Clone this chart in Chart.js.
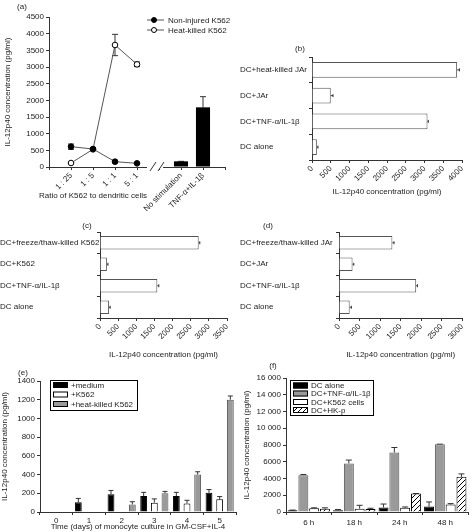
<!DOCTYPE html>
<html>
<head>
<meta charset="utf-8">
<script src="https://cdn.jsdelivr.net/npm/chart.js@4/dist/chart.umd.min.js"></script>
<style>
body { margin: 0; background: #fff; }
#fig { position: relative; width: 470px; height: 532px; font-family: 'Liberation Sans', Arial, sans-serif; font-size: 8px; color: #222; }
canvas { position: absolute; }
.lbl { position: absolute; white-space: nowrap; transform: translate(-50%, -50%); }
</style>
</head>
<body>
<div id="fig">
  <canvas id="ca" width="235" height="215" style="left:0;top:0"></canvas>
  <canvas id="cb" width="230" height="157" style="left:240px;top:40px"></canvas>
  <canvas id="cc" width="235" height="145" style="left:0;top:215px"></canvas>
  <canvas id="cd" width="230" height="145" style="left:240px;top:215px"></canvas>
  <canvas id="ce" width="240" height="167" style="left:0;top:365px"></canvas>
  <canvas id="cf" width="230" height="167" style="left:240px;top:365px"></canvas>
  <div class="lbl" style="left:22px;top:6px">(a)</div>
  <div class="lbl" style="left:300px;top:48px">(b)</div>
  <div class="lbl" style="left:87px;top:225px">(c)</div>
  <div class="lbl" style="left:268px;top:225px">(d)</div>
  <div class="lbl" style="left:23px;top:372px">(e)</div>
  <div class="lbl" style="left:273px;top:365px">(f)</div>
  <div class="lbl" style="left:93px;top:195px">Ratio of K562 to dendritic cells</div>
</div>
<script>
// ---- (a) K562 : DC ratio ----
const ratioLabels = ['', '1 : 25', '1 : 5', '1 : 1', '5 : 1', '', 'No stimulation', 'TNF-α+IL-1β', ''];
const nonInjured = [null, 610, 540, 160, 110, null, null, null, null];
const nonInjuredErr = [null, 80, 40, 40, 30, null, null, null, null];
const heatKilled = [null, 120, 530, 3660, 3080, null, null, null, null];
const heatKilledErr = [null, 20, 30, 320, 70, null, null, null, null];
const controls = [null, null, null, null, null, null, 170, 1790, null];
const controlsErr = [null, null, null, null, null, null, 0, 320, null];

// ---- (b) JAr ----
const bLabels = ['DC+heat-killed JAr', 'DC+JAr', 'DC+TNF-α/IL-1β', 'DC alone'];
const bValues = [3870, 500, 3080, 130];
const bErrors = [60, 60, 20, 30];

// ---- (c) freeze/thaw K562 ----
const cLabels = ['DC+freeze/thaw-killed K562', 'DC+K562', 'DC+TNF-α/IL-1β', 'DC alone'];
const cValues = [2720, 190, 1580, 250];
const cErrors = [30, 30, 40, 30];

// ---- (d) freeze/thaw JAr ----
const dLabels = ['DC+freeze/thaw-killed JAr', 'DC+JAr', 'DC+TNF-α/IL-1β', 'DC alone'];
const dValues = [1300, 330, 1880, 260];
const dErrors = [40, 30, 30, 40];

// ---- (e) days of culture ----
const days = ['0', '1', '2', '3', '4', '5'];
const eMedium = [null, 105, 190, 170, 170, 205];
const eMediumErr = [null, 40, 40, 40, 40, 35];
const eK562 = [null, null, null, 100, 90, 135];
const eK562Err = [null, null, null, 40, 35, 30];
const eHeat = [null, null, 80, 200, 400, 1200];
const eHeatErr = [null, null, 30, 20, 30, 40];

// ---- (f) time course ----
const hours = ['6 h', '18 h', '24 h', '48 h'];
const fAlone = [200, 200, 550, 650];
const fAloneErr = [30, 100, 400, 550];
const fTnf = [4400, 5800, 7100, 8100];
const fTnfErr = [80, 400, 600, 0];
const fK562 = [450, 400, 500, 900];
const fK562Err = [50, 400, 100, 100];
const fHkp = [400, 350, 2200, 4200];
const fHkpErr = [100, 100, 0, 350];

const YTITLE = 'IL-12p40 concentration (pg/ml)';
const AX = '#333';
const GRAY = '#9a9a9a';

Chart.defaults.font.family = "'Liberation Sans', Arial, sans-serif";
Chart.defaults.font.size = 8;
Chart.defaults.color = '#222';
Chart.defaults.animation = false;
Chart.defaults.plugins.legend.display = false;
Chart.defaults.plugins.tooltip.enabled = false;

const plain = v => String(v); // no thousands comma

// hatch for DC+HK-p
function hatch() {
    const c = document.createElement('canvas');
    c.width = 5; c.height = 5;
    const g = c.getContext('2d');
    g.fillStyle = '#fff'; g.fillRect(0, 0, 5, 5);
    g.strokeStyle = '#000'; g.lineWidth = 1;
    g.beginPath();
    g.moveTo(0, 5); g.lineTo(5, 0);
    g.moveTo(-1, 1); g.lineTo(1, -1);
    g.moveTo(4, 6); g.lineTo(6, 4);
    g.stroke();
    return g.createPattern(c, 'repeat');
}

// error bars, drawn under the marks
const errorBars = {
    id: 'errorBars',
    beforeDatasetsDraw(chart, args, o) {
        const ctx = chart.ctx;
        const horiz = chart.options.indexAxis === 'y';
        const vs = horiz ? chart.scales.x : chart.scales.y;
        const c = o.cap || 2;
        ctx.save();
        ctx.strokeStyle = '#333';
        ctx.lineWidth = 1;
        chart.data.datasets.forEach((ds, di) => {
            if (!ds.errors) return;
            const meta = chart.getDatasetMeta(di);
            meta.data.forEach((el, i) => {
                const v = ds.data[i], e = ds.errors[i];
                if (v == null || e == null) return;
                const p1 = vs.getPixelForValue(v + e);
                const p2 = ds.type === 'line' ? vs.getPixelForValue(v - e) : vs.getPixelForValue(v);
                ctx.beginPath();
                if (horiz) {
                    const y = el.y;
                    ctx.moveTo(p2, y); ctx.lineTo(p1, y);
                    ctx.moveTo(p1, y - c); ctx.lineTo(p1, y + c);
                } else {
                    const x = el.x;
                    ctx.moveTo(x, p2); ctx.lineTo(x, p1);
                    ctx.moveTo(x - c, p1); ctx.lineTo(x + c, p1);
                    if (ds.type === 'line') { ctx.moveTo(x - c, p2); ctx.lineTo(x + c, p2); }
                }
                ctx.stroke();
            });
        });
        ctx.restore();
    }
};

// broken x axis in (a)
const axisBreak = {
    id: 'axisBreak',
    afterDraw(chart, args, o) {
        if (o.index == null) return;
        const ctx = chart.ctx;
        const x = chart.scales.x.getPixelForValue(o.index) - 4;
        const y = chart.chartArea.bottom;
        ctx.save();
        ctx.fillStyle = '#fff';
        ctx.fillRect(x - 8, y - 2, 16, 4);
        ctx.strokeStyle = AX;
        ctx.lineWidth = 1;
        ctx.beginPath();
        ctx.moveTo(x - 5, y + 4); ctx.lineTo(x + 1, y - 5);
        ctx.moveTo(x + 3, y + 4); ctx.lineTo(x + 9, y - 5);
        ctx.stroke();
        ctx.restore();
    }
};

// legend placed inside the plot
const boxLegend = {
    id: 'boxLegend',
    afterDraw(chart, args, o) {
        if (!o.rows) return;
        const ctx = chart.ctx;
        ctx.save();
        if (o.border) {
            ctx.strokeStyle = '#000'; ctx.lineWidth = 1;
            ctx.strokeRect(o.x + 0.5, o.y + 0.5, o.w, o.h);
        }
        ctx.font = "8px 'Liberation Sans', Arial, sans-serif";
        ctx.textBaseline = 'middle';
        let k = 0;
        chart.data.datasets.forEach(ds => {
            if (!ds.label) return;
            const ry = o.rows[k++];
            const sx = o.sx;
            if (ds.type === 'line') {
                ctx.strokeStyle = ds.borderColor; ctx.lineWidth = 1;
                ctx.beginPath(); ctx.moveTo(sx, ry); ctx.lineTo(sx + 17, ry); ctx.stroke();
                ctx.beginPath(); ctx.arc(sx + 7, ry, 2.5, 0, Math.PI * 2);
                ctx.fillStyle = ds.pointBackgroundColor; ctx.fill();
                ctx.strokeStyle = ds.pointBorderColor; ctx.stroke();
            } else {
                ctx.fillStyle = ds.backgroundColor;
                ctx.fillRect(sx, ry - 3, 15, 6);
                ctx.strokeStyle = '#000'; ctx.lineWidth = 1;
                ctx.strokeRect(sx + 0.5, ry - 2.5, 14, 5);
            }
            ctx.fillStyle = '#222';
            ctx.fillText(ds.label, o.tx, ry + 0.5);
        });
        ctx.restore();
    }
};

function tickGrid(offset) {
    return { display: true, drawOnChartArea: false, tickLength: 3, color: AX, offset: offset };
}

// (a)
new Chart(document.getElementById('ca'), {
    type: 'bar',
    data: {
        labels: ratioLabels,
        datasets: [
            { type: 'line', label: 'Non-injured K562', data: nonInjured, errors: nonInjuredErr,
              borderColor: '#555', borderWidth: 1, pointRadius: 2.8, pointBackgroundColor: '#000',
              pointBorderColor: '#000', pointBorderWidth: 1 },
            { type: 'line', label: 'Heat-killed K562', data: heatKilled, errors: heatKilledErr,
              borderColor: '#555', borderWidth: 1, pointRadius: 2.8, pointBackgroundColor: '#fff',
              pointBorderColor: '#000', pointBorderWidth: 1 },
            { type: 'bar', data: controls, errors: controlsErr, backgroundColor: '#000',
              barPercentage: 0.64, categoryPercentage: 1 }
        ]
    },
    options: {
        responsive: false,
        layout: { padding: { top: 17, right: 10, left: 0, bottom: 0 } },
        scales: {
            x: { offset: false, grid: tickGrid(false), border: { color: AX },
                 ticks: { minRotation: 45, maxRotation: 45, autoSkip: false, padding: 1 },
                 afterFit: s => { s.height = 48; } },
            y: { min: 0, max: 4500, ticks: { stepSize: 500, padding: 2, callback: plain }, grid: tickGrid(false),
                 border: { color: AX }, title: { display: true, text: YTITLE, padding: { top: 3, bottom: 0 } },
                 afterFit: s => { s.width = 49; } }
        },
        plugins: {
            errorBars: { cap: 3 },
            axisBreak: { index: 5 },
            boxLegend: { rows: [20, 30], sx: 147, tx: 168 }
        }
    },
    plugins: [errorBars, axisBreak, boxLegend]
});

function hbar(id, labels, values, errors, max, yw, xh, pad) {
    new Chart(document.getElementById(id), {
        type: 'bar',
        data: { labels: labels, datasets: [{ data: values, errors: errors, backgroundColor: '#fff',
            borderColor: '#555', borderWidth: 1, barPercentage: 0.62, categoryPercentage: 1 }] },
        options: {
            responsive: false,
            indexAxis: 'y',
            layout: { padding: pad },
            scales: {
                x: { min: 0, max: max,
                     ticks: { stepSize: 500, minRotation: 45, maxRotation: 45, padding: 1, callback: plain },
                     grid: tickGrid(false), border: { color: AX },
                     title: { display: true, text: YTITLE, padding: 0 },
                     afterFit: s => { s.height = xh; } },
                y: { ticks: { crossAlign: 'far', padding: 2 }, grid: tickGrid(true), border: { color: AX },
                     afterFit: s => { s.width = yw; } }
            },
            plugins: { errorBars: { cap: 1.5 } }
        },
        plugins: [errorBars]
    });
}

hbar('cb', bLabels, bValues, bErrors, 4000, 72, 37, { top: 17, right: 8, left: 0, bottom: 0 });
hbar('cc', cLabels, cValues, cErrors, 3500, 100, 42, { top: 17, right: 8, left: 0, bottom: 0 });
hbar('cd', dLabels, dValues, dErrors, 3000, 99, 42, { top: 17, right: 2, left: 0, bottom: 0 });

// (e)
new Chart(document.getElementById('ce'), {
    type: 'bar',
    data: {
        labels: days,
        datasets: [
            { label: '+medium', data: eMedium, errors: eMediumErr, backgroundColor: '#000', borderColor: '#000', borderWidth: 1 },
            { label: '+K562', data: eK562, errors: eK562Err, backgroundColor: '#fff', borderColor: '#000', borderWidth: 1 },
            { label: '+heat-killed K562', data: eHeat, errors: eHeatErr, backgroundColor: GRAY, borderColor: '#555', borderWidth: 1 }
        ]
    },
    options: {
        responsive: false,
        datasets: { bar: { barPercentage: 0.64, categoryPercentage: 0.98 } },
        layout: { padding: { top: 16, right: 4, left: 0, bottom: 0 } },
        scales: {
            x: { grid: tickGrid(true), border: { color: AX }, ticks: { padding: 1 },
                 title: { display: true, text: 'Time (days) of monocyte culture in GM-CSF+IL-4', padding: 0 },
                 afterFit: s => { s.height = 20; } },
            y: { min: 0, max: 1400, ticks: { stepSize: 200, padding: 2, callback: plain }, grid: tickGrid(false),
                 border: { color: AX }, title: { display: true, text: YTITLE, padding: { top: 0, bottom: 0 } },
                 afterFit: s => { s.width = 40; } }
        },
        plugins: {
            errorBars: { cap: 2.5 },
            boxLegend: { border: true, x: 50, y: 15, w: 87, h: 30, rows: [20, 29.5, 39], sx: 53, tx: 71 }
        }
    },
    plugins: [errorBars, boxLegend]
});

// (f)
new Chart(document.getElementById('cf'), {
    type: 'bar',
    data: {
        labels: hours,
        datasets: [
            { label: 'DC alone', data: fAlone, errors: fAloneErr, backgroundColor: '#000', borderColor: '#000', borderWidth: 1 },
            { label: 'DC+TNF-α/IL-1β', data: fTnf, errors: fTnfErr, backgroundColor: GRAY, borderColor: '#555', borderWidth: 1 },
            { label: 'DC+K562 cells', data: fK562, errors: fK562Err, backgroundColor: '#fff', borderColor: '#000', borderWidth: 1 },
            { label: 'DC+HK-p', data: fHkp, errors: fHkpErr, backgroundColor: hatch(), borderColor: '#000', borderWidth: 1 }
        ]
    },
    options: {
        responsive: false,
        datasets: { bar: { barPercentage: 0.92, categoryPercentage: 0.95 } },
        layout: { padding: { top: 13, right: 2, left: 0, bottom: 0 } },
        scales: {
            x: { grid: tickGrid(true), border: { color: AX }, ticks: { padding: 3 },
                 afterFit: s => { s.height = 20; } },
            y: { min: 0, max: 16000,
                 ticks: { stepSize: 2000, padding: 2,
                          callback: v => v >= 10000 ? String(v).replace(/(\d{3})$/, ' $1') : String(v) },
                 grid: tickGrid(false), border: { color: AX },
                 title: { display: true, text: YTITLE, padding: { top: 2, bottom: 0 } },
                 afterFit: s => { s.width = 46; } }
        },
        plugins: {
            errorBars: { cap: 3 },
            boxLegend: { border: true, x: 50, y: 15, w: 83, h: 35, rows: [20.5, 28.5, 37, 45], sx: 53, tx: 71 }
        }
    },
    plugins: [errorBars, boxLegend]
});
</script>
</body>
</html>
